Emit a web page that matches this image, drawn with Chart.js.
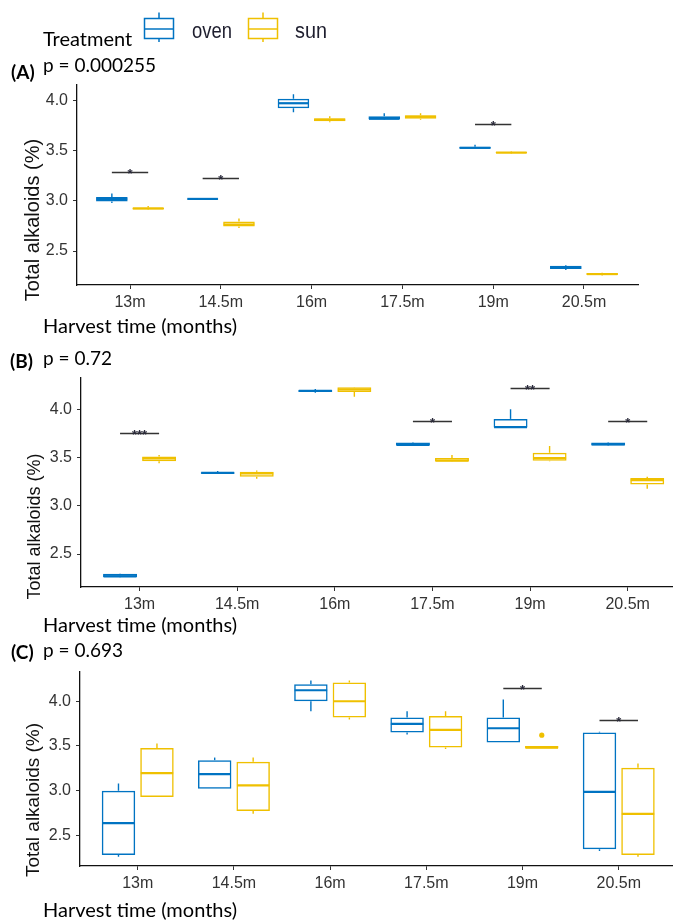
<!DOCTYPE html>
<html>
<head>
<meta charset="utf-8">
<script src="https://cdn.jsdelivr.net/npm/chart.js@4.4.1/dist/chart.umd.min.js"></script>
<style>
  html, body { margin: 0; padding: 0; background: #fff; }
  #page { position: relative; width: 673px; height: 921px; overflow: hidden; }
  canvas { position: absolute; left: 0; }
  svg { position: absolute; left: 0; top: 0; }
</style>
</head>
<body>
<div id="page">
  <canvas id="chartA" width="673" height="240" style="top:80px"></canvas>
  <canvas id="chartB" width="673" height="250" style="top:370px"></canvas>
  <canvas id="chartC" width="673" height="250" style="top:660px"></canvas>
  <svg width="673" height="921" xmlns="http://www.w3.org/2000/svg">
    <g font-family="Lato, 'Open Sans', sans-serif" fill="#000">
      <text x="43" y="46" font-size="20">Treatment</text>
      <text x="11" y="79" font-size="19" font-weight="bold">(A)</text>
      <text x="43" y="72" font-size="19">p = 0.000255</text>
      <text x="43" y="333" font-size="20">Harvest time (months)</text>
      <text x="10" y="368" font-size="19" font-weight="bold">(B)</text>
      <text x="43" y="365" font-size="19">p = 0.72</text>
      <text x="43" y="632" font-size="20">Harvest time (months)</text>
      <text x="11" y="659" font-size="19" font-weight="bold">(C)</text>
      <text x="43" y="657" font-size="19">p = 0.693</text>
      <text x="43" y="917" font-size="20">Harvest time (months)</text>
    </g>
    <g font-family="'Liberation Sans', Arial, sans-serif" fill="#111" text-anchor="middle">
      <text transform="translate(39,220) rotate(-90)" font-size="20">Total alkaloids (%)</text>
      <text transform="translate(39.5,526.5) rotate(-90)" font-size="18">Total alkaloids (%)</text>
      <text transform="translate(39,800) rotate(-90)" font-size="19">Total alkaloids (%)</text>
    </g>
    <!-- legend keys -->
    <g fill="none" stroke-width="1.5">
      <g stroke="#0073C2">
        <rect x="144.5" y="18.5" width="29" height="20"/>
        <line x1="144.5" y1="29" x2="173.5" y2="29"/>
        <line x1="159" y1="12.5" x2="159" y2="18.5"/>
        <line x1="159" y1="38.5" x2="159" y2="42"/>
      </g>
      <g stroke="#EFC000">
        <rect x="248.5" y="18.5" width="29" height="20"/>
        <line x1="248.5" y1="29" x2="277.5" y2="29"/>
        <line x1="263" y1="12.5" x2="263" y2="18.5"/>
        <line x1="263" y1="38.5" x2="263" y2="42"/>
      </g>
    </g>
    <g font-family="'Liberation Sans', Arial, sans-serif" fill="#1e1e2e" font-size="22">
      <text x="192" y="38" textLength="40" lengthAdjust="spacingAndGlyphs">oven</text>
      <text x="295" y="38" textLength="32" lengthAdjust="spacingAndGlyphs">sun</text>
    </g>
  </svg>
</div>
<script>
const categories = ['13m', '14.5m', '16m', '17.5m', '19m', '20.5m'];
const yTicks = [2.5, 3.0, 3.5, 4.0];
const treatments = ['oven', 'sun'];
const colors = ['#0073C2', '#EFC000'];

// per category: [lower whisker, Q1, median, Q3, upper whisker]
const ovenA = [
  [2.98, 2.995, 3.02, 3.04, 3.075],
  [3.012, 3.015, 3.02, 3.025, 3.03],
  [3.885, 3.925, 3.975, 4.02, 4.065],
  [3.81, 3.815, 3.82, 3.845, 3.875],
  [3.52, 3.522, 3.53, 3.54, 3.56],
  [2.31, 2.32, 2.335, 2.352, 2.36]
];
const sunA = [
  [2.91, 2.915, 2.925, 2.935, 2.95],
  [2.73, 2.745, 2.765, 2.795, 2.825],
  [3.785, 3.795, 3.81, 3.825, 3.845],
  [3.81, 3.82, 3.84, 3.855, 3.875],
  [3.47, 3.475, 3.482, 3.492, 3.497],
  [2.255, 2.262, 2.27, 2.282, 2.284]
];
const ovenB = [
  [2.258, 2.262, 2.268, 2.295, 2.298],
  [3.33, 3.332, 3.34, 3.348, 3.36],
  [4.17, 4.18, 4.19, 4.2, 4.21],
  [3.62, 3.625, 3.63, 3.655, 3.66],
  [3.81, 3.81, 3.815, 3.9, 4.0],
  [3.62, 3.625, 3.635, 3.655, 3.66]
];
const sunB = [
  [3.44, 3.46, 3.49, 3.51, 3.525],
  [3.28, 3.30, 3.335, 3.352, 3.365],
  [4.13, 4.178, 4.205, 4.228, 4.23],
  [3.455, 3.458, 3.468, 3.495, 3.525],
  [3.46, 3.467, 3.495, 3.55, 3.62],
  [3.175, 3.22, 3.265, 3.288, 3.30]
];
const ovenC = [
  [2.26, 2.28, 2.637, 3.0, 3.08],
  [3.02, 3.02, 3.184, 3.341, 3.37],
  [3.888, 4.0, 4.123, 4.19, 4.231],
  [3.628, 3.65, 3.747, 3.818, 3.888],
  [3.539, 3.539, 3.698, 3.818, 4.019],
  [2.324, 2.343, 2.987, 3.65, 3.66]
];
const sunC = [
  [2.93, 2.93, 3.196, 3.478, 3.527],
  [2.741, 2.771, 3.058, 3.322, 3.37],
  [3.795, 3.818, 4.0, 4.209, 4.231],
  [3.467, 3.483, 3.68, 3.836, 3.888],
  [3.47, 3.47, 3.48, 3.50, 3.50],
  [2.26, 2.279, 2.741, 3.255, 3.304]
];
const noOutliers = [[], [], [], [], [], []];
const sunCOutliers = [[], [], [], [], [3.62], []];

// significance brackets: category index, height, label
const sigACats = [0, 1, 4];
const sigAY = [3.29, 3.23, 3.77];
const sigALabels = ['*', '*', '*'];
const sigBCats = [0, 3, 4, 5];
const sigBY = [3.757, 3.879, 4.224, 3.879];
const sigBLabels = ['***', '*', '**', '*'];
const sigCCats = [4, 5];
const sigCY = [4.149, 3.79];
const sigCLabels = ['*', '*'];

const tickFont = { family: "'Liberation Sans', Arial, sans-serif" };

function boxPartsPlugin(sigCats, sigY, sigLabels) {
  return {
    id: 'boxParts',
    afterDatasetsDraw(chart) {
      const ctx = chart.ctx;
      const y = chart.scales.y;
      ctx.save();
      chart.data.datasets.forEach((ds, d) => {
        const meta = chart.getDatasetMeta(d);
        meta.data.forEach((bar, i) => {
          const s = ds.stats[i];
          const half = bar.width / 2;
          ctx.strokeStyle = ds.borderColor;
          ctx.lineWidth = 1.4;
          ctx.beginPath();
          ctx.moveTo(bar.x, y.getPixelForValue(s[3]));
          ctx.lineTo(bar.x, y.getPixelForValue(s[4]));
          ctx.moveTo(bar.x, y.getPixelForValue(s[1]));
          ctx.lineTo(bar.x, y.getPixelForValue(s[0]));
          ctx.stroke();
          ctx.lineWidth = 2.2;
          ctx.beginPath();
          const ym = y.getPixelForValue(s[2]);
          ctx.moveTo(bar.x - half + 0.5, ym);
          ctx.lineTo(bar.x + half - 0.5, ym);
          ctx.stroke();
          ctx.fillStyle = ds.borderColor;
          ds.outliers[i].forEach(v => {
            ctx.beginPath();
            ctx.arc(bar.x, y.getPixelForValue(v), 2.6, 0, Math.PI * 2);
            ctx.fill();
          });
        });
      });
      const m0 = chart.getDatasetMeta(0);
      const m1 = chart.getDatasetMeta(1);
      ctx.strokeStyle = '#333';
      ctx.fillStyle = '#2a2a3a';
      ctx.lineWidth = 1.3;
      ctx.font = "bold 13px 'Liberation Sans', Arial, sans-serif";
      ctx.textAlign = 'center';
      ctx.textBaseline = 'alphabetic';
      sigCats.forEach((c, k) => {
        const x0 = m0.data[c].x;
        const x1 = m1.data[c].x;
        const yy = Math.round(y.getPixelForValue(sigY[k])) + 0.5;
        ctx.beginPath();
        ctx.moveTo(x0, yy);
        ctx.lineTo(x1, yy);
        ctx.stroke();
        ctx.fillText(sigLabels[k], (x0 + x1) / 2, yy + 5);
      });
      ctx.restore();
    }
  };
}

function makeChart(id, oven, sun, outliers, sig, g) {
  const canvas = document.getElementById(id);
  return new Chart(canvas, {
    type: 'bar',
    data: {
      datasets: [oven, sun].map((stats, d) => ({
        label: treatments[d],
        data: stats.map((s, i) => ({ x: i + 1, y: [s[1], s[3]] })),
        stats: stats,
        outliers: outliers[d],
        backgroundColor: 'rgba(255,255,255,0)',
        borderColor: colors[d],
        borderWidth: 1.5,
        borderSkipped: false,
        categoryPercentage: 0.8,
        barPercentage: 0.87
      }))
    },
    options: {
      responsive: false,
      animation: false,
      events: [],
      layout: { padding: { top: g.padTop, right: g.padRight, bottom: 0, left: 0 } },
      plugins: { legend: { display: false }, tooltip: { enabled: false } },
      scales: {
        x: {
          type: 'linear',
          min: g.xMin,
          max: g.xMax,
          bounds: 'data',
          offset: false,
          afterBuildTicks: s => { s.ticks = categories.map((c, i) => ({ value: i + 1 })); },
          ticks: {
            autoSkip: false,
            maxRotation: 0,
            color: '#333',
            padding: 4,
            font: { ...tickFont, size: 16 },
            callback: v => categories[Math.round(v) - 1] || ''
          },
          grid: { offset: false, drawOnChartArea: false, tickLength: 4, color: '#333' },
          border: { display: true, color: '#111', width: 1.3 },
          afterFit: s => { s.height = g.xHeight; s.paddingLeft = 0; s.paddingRight = 0; }
        },
        y: {
          type: 'linear',
          min: g.yMin,
          max: g.yMax,
          bounds: 'data',
          afterBuildTicks: s => { s.ticks = yTicks.map(v => ({ value: v })); },
          ticks: {
            color: '#333',
            padding: 5,
            font: { ...tickFont, size: 16 },
            callback: v => v.toFixed(1)
          },
          grid: { drawOnChartArea: false, tickLength: 4, color: '#333' },
          border: { display: true, color: '#111', width: 1.3 },
          afterFit: s => { s.width = g.yWidth; s.paddingTop = 0; s.paddingBottom = 0; }
        }
      }
    },
    plugins: [boxPartsPlugin(sig[0], sig[1], sig[2])]
  });
}

makeChart('chartA', ovenA, sunA, [noOutliers, noOutliers], [sigACats, sigAY, sigALabels],
  { padTop: 5, padRight: 35, xHeight: 35, yWidth: 77, xMin: 0.416, xMax: 6.595, yMin: 2.161, yMax: 4.157 });
makeChart('chartB', ovenB, sunB, [noOutliers, noOutliers], [sigBCats, sigBY, sigBLabels],
  { padTop: 8, padRight: 0, xHeight: 33, yWidth: 81, xMin: 0.4, xMax: 6.464, yMin: 2.158, yMax: 4.324 });
makeChart('chartC', ovenC, sunC, [noOutliers, sunCOutliers], [sigCCats, sigCY, sigCLabels],
  { padTop: 12, padRight: 0, xHeight: 44, yWidth: 80, xMin: 0.4, xMax: 6.564, yMin: 2.157, yMax: 4.327 });
</script>
</body>
</html>
